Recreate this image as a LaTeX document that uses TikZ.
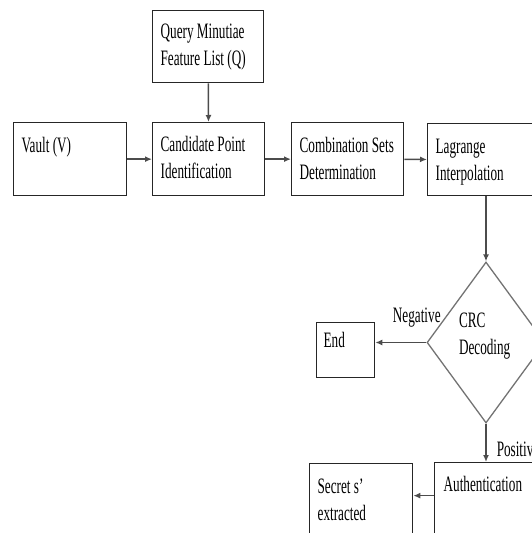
\documentclass[tikz,border=0pt]{standalone}
\usepackage{fontspec}
\setmainfont{Liberation Serif}[FakeStretch=0.6]
\usetikzlibrary{arrows.meta,shapes.geometric}

\begin{document}
\begin{tikzpicture}[x=1pt, y=-1pt,
		font=\fontsize{22pt}{27pt}\selectfont,
		execute at begin node={\spaceskip=3.3pt plus 1pt\relax},
		box/.style={draw=black!85, line width=1.3pt, anchor=north west, align=left,
			inner xsep=8pt, inner ysep=0pt, text width=96pt,
			text height=30pt, text depth=43pt},
		decision/.style={diamond, draw=black!55, line width=1.3pt, inner sep=0pt,
			minimum width=118pt, minimum height=161pt, align=left, text width=54pt,
			text height=14pt, text depth=45pt},
		conn/.style={draw=black!70, line width=1.5pt, -{Latex[length=7pt,width=6pt]}},
		lbl/.style={inner sep=0pt}]
	\useasboundingbox (0, 0) rectangle (532, 533);
	\clip (0, 0) rectangle (532, 533);

	\node[box, text width=95pt, text height=28pt, text depth=44pt] (query) at (152, 10) {Query Minutiae\\Feature List (Q)};
	\node[box, text width=97pt] (vault) at (13, 122) {Vault (V)};
	\node[box, text height=29pt, text depth=44pt] (cand) at (152, 122) {Candidate Point\\Identification};
	\node[box] (comb) at (291, 122) {\mbox{Combination Sets}\\Determination};
	\node[box, text depth=42pt] (lag) at (427, 123) {Lagrange\\Interpolation};
	\node[decision] (crc) at (486, 342.5) {CRC\\Decoding};
	\node[box, inner xsep=7pt, text width=44pt, text height=25pt, text depth=30pt] (end) at (316, 322) {End};
	\node[box, inner xsep=9pt, text width=94pt, text height=29pt, text depth=44pt] (auth) at (434, 462) {Authentication};
	\node[box, text width=87pt] (secret) at (309, 463) {Secret s'\\extracted};

	\draw[conn] (query) -- (cand);
	\draw[conn] (vault) -- (cand);
	\draw[conn] (cand) -- (comb);
	\draw[conn] (comb) -- (lag);
	\draw[conn] (crc.north |- lag.south) -- (crc.north);
	\draw[conn] (crc.west) -- (crc.west -| end.east)
		node[lbl, at start, anchor=south east, xshift=15pt, yshift=14.5pt] {Negative};
	\draw[conn] (crc.south) -- (crc.south |- auth.north)
		node[lbl, at end, anchor=base west, xshift=10pt, yshift=6pt] {Positive};
	\draw[conn] ([yshift=3.5pt]auth.west) -- ([yshift=3.5pt]auth.west -| secret.east);
\end{tikzpicture}
\end{document}
